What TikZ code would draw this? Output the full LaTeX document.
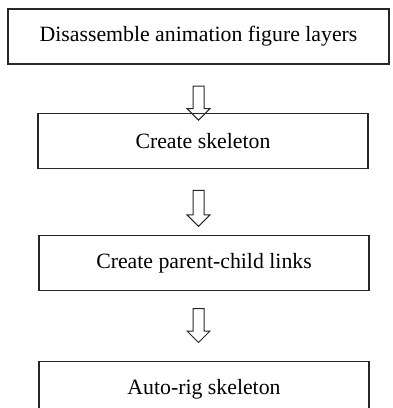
\documentclass[tikz,border=0pt]{standalone}
\usepackage{fontspec}
\setmainfont{Liberation Serif}
\usetikzlibrary{positioning,shapes.arrows}

\begin{document}
\begin{tikzpicture}[
    node distance=24pt,
    boxnode/.style={rectangle, draw=black!85, line width=0.6pt, minimum width=165pt, minimum height=27.5pt, font=\fontsize{10.9}{13}\selectfont, align=center},
    hollowarrow/.style={single arrow, draw=black!85, line width=0.5pt, inner sep=2.5pt, minimum width=11pt, minimum height=17pt, single arrow head extend=3pt, single arrow tip angle=90, shape border rotate=270, anchor=tail}
]
    \clip (0,0) rectangle (196pt,-204pt);

    % Nodes
    \node[boxnode, minimum width=190.5pt] (dis) at (99.25pt,-18.25pt) {Disassemble animation figure layers};
    \node[boxnode, below=24pt of dis, xshift=2.25pt] (skel) {Create skeleton};
    \node[boxnode, below=33pt of skel, xshift=0.5pt] (links) {Create parent-child links};
    \node[boxnode, below=35pt of links] (rig) {Auto-rig skeleton};

    % Arrows between the steps
    \node[hollowarrow] (a1) at ([yshift=-10.5pt]dis.south) {};
    \node[hollowarrow, minimum height=18pt] (a2) at ([yshift=-10.5pt]skel.south -| dis.south) {};
    \node[hollowarrow] (a3) at ([yshift=-8.5pt]links.south -| dis.south) {};

\end{tikzpicture}
\end{document}
